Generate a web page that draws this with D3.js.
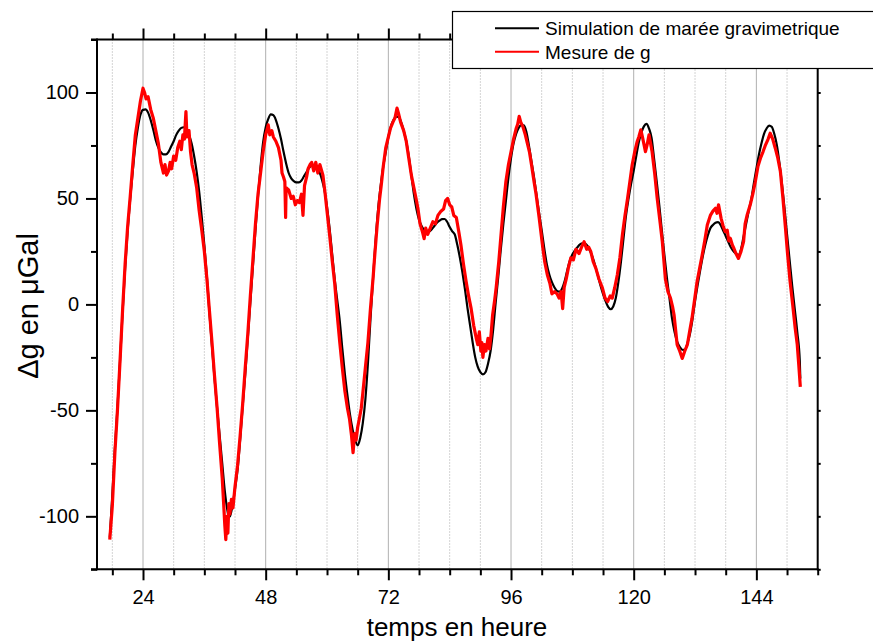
<!DOCTYPE html>
<html>
<head>
<meta charset="utf-8">
<script src="https://cdn.jsdelivr.net/npm/d3@7"></script>
<style>
html,body{margin:0;padding:0;background:#fff;}
svg{display:block;font-family:"Liberation Sans",Arial,sans-serif;}
</style>
</head>
<body>
<svg id="chart" width="873" height="641"></svg>
<script>
// ---- data (hours, µGal) ----
const seriesNames = ["Simulation de marée gravimetrique", "Mesure de g"];
const xLabel = "temps en heure";
const yLabel = "\u0394g en \u03BCGal";
const xMajorTicks = [24, 48, 72, 96, 120, 144];
const xMinorTicks = [18, 30, 36, 42, 54, 60, 66, 78, 84, 90, 102, 108, 114, 126, 132, 138, 150, 156];
const yMajorTicks = [-100, -50, 0, 50, 100];
const yMinorTicks = [-125, -75, -25, 25, 75, 125];

const simulation = [
[17.5,-110],[18,-90],[18.5,-68],[19,-49],[19.5,-27],[20,-4],[20.5,17],[21,35],[21.5,50],[22,63],[22.5,75],
[23,83.5],[23.5,89.5],[24,91.8],[24.5,92],[25,90.5],[25.5,87],[26,82.5],[26.5,77.5],[27,74],[27.5,71.8],
[28,70.8],[28.5,70.8],[29,72],[29.5,74.5],[30,77],[30.5,80],[31,82],[31.5,83.3],[32,83.6],[32.5,82.6],
[33,80],[33.5,76],[34,70],[34.5,62.5],[35,53],[35.5,41],[36,28],[36.5,13],[37,-4],[37.5,-20],[38,-35],
[38.5,-49],[39,-62],[39.5,-75],[40,-88],[40.5,-97],[40.8,-100.3],[41,-100],[41.5,-95],[42,-87],[42.5,-78],
[43,-64],[43.5,-48],[44,-33],[44.5,-16],[45,1],[45.5,18],[46,35],[46.5,51],[47,65],[47.5,76.5],[48,83.5],
[48.5,87.5],[49,89.7],[49.5,89.3],[50,87],[50.5,83],[51,78],[51.5,72],[52,66.5],[52.5,62],[53,59.5],
[53.5,58.2],[54,57.6],[54.5,57.6],[55,58.5],[55.5,60.5],[56,62.5],[56.5,64.5],[57,65.5],[57.5,65.8],
[58,65],[58.5,62.5],[59,59],[59.5,54],[60,46],[60.5,36],[61,24],[61.5,12],[62,2],[62.5,-8],[63,-21],
[63.5,-33],[64,-43],[64.5,-52],[65,-59],[65.5,-64],[66,-66.5],[66.5,-63],[67,-56],[67.5,-45],[68,-28],
[68.5,-7],[69,12],[69.5,30],[70,45],[70.5,56],[71,65],[71.5,72],[72,79],[72.5,84],[73,87],[73.5,88.6],
[74,88.5],[74.5,86],[75,82],[75.5,77],[76,70],[76.5,61],[77,52],[77.5,45],[78,40],[78.5,37],[79,35.2],
[79.5,34.4],[80,34.5],[80.5,35.5],[81,37],[81.5,38.5],[82,39.5],[82.5,40.2],[83,40.3],[83.5,39],[84,36.5],
[84.5,34.5],[85,33],[85.5,28],[86,22],[86.5,15],[87,7],[87.5,-2],[88,-10],[88.5,-18],[89,-25],[89.5,-29.5],
[90,-32],[90.5,-33],[91,-32],[91.5,-28],[92,-22],[92.5,-12],[93,1],[93.5,13],[94,26],[94.5,38],[95,49],
[95.5,60],[96,69],[96.5,76],[97,80.5],[97.5,83.3],[98,84.6],[98.5,84.5],[99,81.5],[99.5,75],[100,67.5],
[100.5,60],[101,51.5],[101.5,43],[102,35],[102.5,26.5],[103,19],[103.5,14],[104,10.5],[104.5,8],[105,6.3],
[105.5,6],[106,7.5],[106.5,11],[107,16],[107.5,20.5],[108,23.5],[108.5,25.5],[109,27],[109.5,28.3],
[110,28.8],[110.5,28.7],[111,27.5],[111.5,25],[112,22],[112.5,18],[113,13.5],[113.5,9],[114,5],[114.5,1.5],
[115,-1.2],[115.5,-2.3],[116,-1],[116.5,3],[117,10.5],[117.5,20],[118,31],[118.5,42],[119,50],[119.5,57],
[120,63],[120.5,70],[121,76.5],[121.5,81],[122,84],[122.5,85.2],[123,83],[123.5,78.5],[124,68.5],[124.5,58],
[125,47],[125.5,35],[126,23.5],[126.5,12.5],[127,3],[127.5,-6.6],[128,-13],[128.5,-17.6],[129,-20],
[129.5,-21.4],[130,-21.5],[130.5,-18.5],[131,-14],[131.5,-7],[132,1.5],[132.5,9],[133,16],[133.5,22.5],
[134,28],[134.5,32.5],[135,35.9],[135.5,37.5],[136,38.5],[136.5,38.8],[137,37.5],[137.5,34.8],[138,32.3],
[138.5,29.5],[139,27],[139.5,25.2],[140,24],[140.5,23.3],[141,26],[141.5,32],[142,38],[142.5,44],
[143,49.5],[143.5,57],[144,64],[144.5,70.6],[145,76],[145.5,80.5],[146,83],[146.5,84.4],[147,83.8],
[147.5,80.5],[148,75.3],[148.5,67],[149,57],[149.5,45.5],[150,33],[150.5,21],[151,9],[151.5,-2],
[152,-13],[152.5,-27],[152.6,-35]
];

const mesure = [
[17.5,-111],[18,-95],[18.5,-70],[19,-50],[19.5,-27],[20,-3],[20.5,19],[21,37],[21.5,51],[22,66],[22.5,80],
[23,88],[23.5,96],[24,102],[24.3,100],[24.6,97],[25,98],[25.5,92],[26,88],[26.5,82],[27,76],[27.5,67],
[27.8,64],[28,62],[28.3,66],[28.6,61],[29,63],[29.3,67],[29.6,64],[30,70],[30.4,68],[30.8,74],[31.2,77],
[31.5,73],[31.8,80],[32.1,78],[32.4,91],[32.6,79],[33,82],[33.3,72],[33.6,66],[34,62],[34.5,55],[35,44],
[35.5,35],[36,25],[36.5,12],[37,-3],[37.5,-18],[38,-34],[38.5,-49],[39,-66],[39.5,-82],[39.8,-95],
[40,-104],[40.2,-111],[40.4,-100],[40.6,-108],[40.8,-94],[41,-99],[41.3,-92],[41.6,-96],[42,-86],
[42.5,-76],[43,-62],[43.5,-47],[44,-30],[44.5,-14],[45,4],[45.5,21],[46,38],[46.5,52],[47,62],[47.5,72],
[48,80],[48.5,84.7],[48.8,80],[49.2,82],[49.5,79],[50,77],[50.5,74],[51,68],[51.2,62],[51.5,60],
[51.75,58],[51.9,41],[52,55],[52.5,54],[53,50],[53.4,51],[53.8,47],[54.2,49],[54.6,48],[55,52],[55.3,42],
[55.6,56],[56,60],[56.3,64],[56.7,66],[57,67],[57.4,63],[57.8,67],[58.2,62],[58.6,66],[59.2,61],
[59.6,53],[60,44],[60.5,33],[61,21],[61.5,10],[62,-5],[62.5,-18],[63,-30],[63.5,-41],[64,-49],[64.4,-54],
[64.8,-62],[65.1,-70],[65.4,-61],[65.7,-64],[66,-58],[66.4,-53],[66.7,-49],[67,-42],[67.5,-30],[68,-18],
[68.5,-2],[69,12],[69.3,22],[69.8,37],[70.3,50],[70.6,56],[71,65],[71.5,74],[71.9,78],[72.4,83],
[72.9,86],[73.3,88],[73.7,92.6],[74,90],[74.4,86],[75,82],[75.5,77],[76,69],[76.5,61],[77,55],[77.5,49],
[77.8,45],[78.2,38],[78.7,34],[79,31],[79.3,36],[79.7,33],[80.2,36],[80.7,39],[81.2,38],[81.7,42],
[82.3,44],[82.8,45],[83.2,49],[83.6,50],[84,47],[84.4,46],[84.8,42],[85.3,41],[85.8,34],[86.2,28],
[86.7,19],[87.2,11],[87.7,4],[88.2,-2],[88.7,-10],[89.2,-16],[89.5,-19],[89.8,-13],[90.1,-22],[90.3,-18],
[90.5,-25],[90.8,-19],[91.1,-22],[91.5,-16],[91.8,-21],[92.1,-14],[92.4,-5],[92.8,2],[93.1,8],[93.6,20],
[94.05,33],[94.5,46],[95,58],[95.5,66],[96,72],[96.5,78],[97,83],[97.3,85],[97.6,88.7],[97.9,86],
[98.3,84],[98.8,80],[99.2,76],[99.6,72],[100,66],[100.5,58],[100.9,52],[101.5,41],[102.2,27],[102.6,20],
[103.1,14],[103.6,10],[104,5],[104.5,6],[105,5],[105.4,3],[105.8,6],[106.1,-2],[106.4,8],[106.8,12],
[107.2,17],[107.7,22],[108.2,21],[108.7,26],[109.3,24],[109.8,27],[110.3,29.6],[110.8,26],[111.2,27],
[111.6,25],[112.1,20],[112.6,17],[113.2,12],[113.9,7.6],[114.4,3],[114.9,1.3],[115.4,4],[115.8,3],
[116.3,8],[116.8,14],[117.3,22],[117.8,33],[118.3,42],[118.8,50],[119.2,57],[119.7,65.8],[120.2,72],
[120.7,77],[121,79],[121.4,82.4],[121.8,78],[122.3,72.1],[122.6,75],[123,80],[123.3,76],[123.6,72],
[124.1,62],[124.6,50],[125.1,40],[125.6,29.6],[126.2,12],[126.7,6],[127.2,3],[127.6,-1],[127.9,-5],
[128.5,-19],[129,-22],[129.5,-25.5],[130,-22],[130.5,-19],[131,-12],[131.4,-6.6],[131.9,2],[132.4,10.7],
[132.9,17],[133.4,23.3],[133.9,30],[134.4,37.5],[135,42],[135.5,44],[136,45.4],[136.3,43],[136.6,47],
[137.1,40.6],[137.5,37],[137.9,34.3],[138.3,35],[138.6,30],[138.9,31.2],[139.3,28],[139.6,26.5],[140,24],
[140.5,21.7],[141,25],[141.5,29.6],[141.8,38],[142.2,42.2],[142.8,47],[143.3,52],[143.8,58],[144.3,65],
[144.8,69],[145.3,72],[145.8,75.3],[146.3,78],[146.7,80.8],[147.2,78],[147.7,73.7],[148.2,69],
[148.7,62.7],[149.2,50],[149.7,35.9],[150.1,24],[150.6,10.7],[151.1,0],[151.6,-11.3],[152,-19],
[152.3,-28.6],[152.6,-38.9]
];

// ---- layout ----
const svg = d3.select("#chart");
const L = 97, R = 817.7, T = 39.5, B = 569.3;
const x = d3.scaleLinear().domain([15, 156]).range([L, R]);
const y = d3.scaleLinear().domain([-125, 125]).range([B, T]);
const fmt = d => String(d);

// grid lines
const gridAll = xMajorTicks.concat(xMinorTicks).filter(v => v < 156);
svg.append("g").selectAll("line").data(gridAll).join("line")
  .attr("x1", d => x(d)).attr("x2", d => x(d))
  .attr("y1", T).attr("y2", B)
  .attr("stroke", d => xMajorTicks.includes(d) ? "#b0b0b0" : "#a8a8a8")
  .attr("stroke-width", 1)
  .attr("stroke-dasharray", d => xMajorTicks.includes(d) ? null : "1,2");

// curves
svg.append("path").datum(simulation)
  .attr("d", d3.line().x(d => x(d[0])).y(d => y(d[1])).curve(d3.curveMonotoneX))
  .attr("fill", "none").attr("stroke", "#000").attr("stroke-width", 2.2);
svg.append("path").datum(mesure)
  .attr("d", d3.line().x(d => x(d[0])).y(d => y(d[1])))
  .attr("fill", "none").attr("stroke", "#ff0000").attr("stroke-width", 3.2)
  .attr("stroke-linejoin", "round");

// axes
function styleAxis(g) {
  g.select(".domain").remove();
  g.selectAll(".tick line").attr("stroke", "#000").attr("stroke-width", 2);
  g.selectAll(".tick text").attr("fill", "#000").attr("font-size", 20)
    .attr("font-family", "'Liberation Sans', Arial, sans-serif");
}
// bottom
svg.append("g").attr("transform", `translate(0,${B})`)
  .call(d3.axisBottom(x).tickValues(xMinorTicks).tickSize(6).tickFormat(""))
  .call(styleAxis);
svg.append("g").attr("transform", `translate(0,${B})`)
  .call(d3.axisBottom(x).tickValues(xMajorTicks).tickSize(11).tickPadding(10).tickFormat(fmt))
  .call(styleAxis);
// top
svg.append("g").attr("transform", `translate(0,${T})`)
  .call(d3.axisTop(x).tickValues(xMinorTicks).tickSize(6).tickFormat(""))
  .call(styleAxis);
svg.append("g").attr("transform", `translate(0,${T})`)
  .call(d3.axisTop(x).tickValues(xMajorTicks).tickSize(11).tickFormat(""))
  .call(styleAxis);
// left
svg.append("g").attr("transform", `translate(${L},0)`)
  .call(d3.axisLeft(y).tickValues(yMinorTicks).tickSize(6).tickFormat(""))
  .call(styleAxis);
svg.append("g").attr("transform", `translate(${L},0)`)
  .call(d3.axisLeft(y).tickValues(yMajorTicks).tickSize(11).tickPadding(7).tickFormat(fmt))
  .call(styleAxis);
// right
svg.append("g").attr("transform", `translate(${R},0)`)
  .call(d3.axisRight(y).tickValues(yMajorTicks.concat(yMinorTicks)).tickSize(3).tickFormat(""))
  .call(styleAxis);

// frame lines
const frame = svg.append("g").attr("stroke", "#000").attr("stroke-width", 2);
frame.append("line").attr("x1", 91).attr("x2", R + 1).attr("y1", T).attr("y2", T);
frame.append("line").attr("x1", 91).attr("x2", R + 1).attr("y1", B).attr("y2", B);
frame.append("line").attr("x1", L).attr("x2", L).attr("y1", T - 1).attr("y2", B + 1);
frame.append("line").attr("x1", R).attr("x2", R).attr("y1", T - 1).attr("y2", B + 1);

// axis titles
svg.append("text").attr("x", 457).attr("y", 636)
  .attr("text-anchor", "middle").attr("font-size", 26).attr("fill", "#000").text(xLabel);
svg.append("text").attr("transform", "translate(38,306) rotate(-90)")
  .attr("text-anchor", "middle").attr("font-size", 29).attr("fill", "#000").text(yLabel);

// legend
const leg = svg.append("g");
leg.append("rect").attr("x", 452.5).attr("y", 11.5).attr("width", 440).attr("height", 57)
  .attr("fill", "#fff").attr("stroke", "#000").attr("stroke-width", 1.2);
const legColors = ["#000", "#ff0000"];
const legY = [28.3, 51.7];
seriesNames.forEach((name, i) => {
  leg.append("line").attr("x1", 495).attr("x2", 539).attr("y1", legY[i]).attr("y2", legY[i])
    .attr("stroke", legColors[i]).attr("stroke-width", 2);
  leg.append("text").attr("x", 545).attr("y", legY[i] + 6.8)
    .attr("font-size", 19).attr("fill", "#000").text(name);
});
</script>
</body>
</html>
